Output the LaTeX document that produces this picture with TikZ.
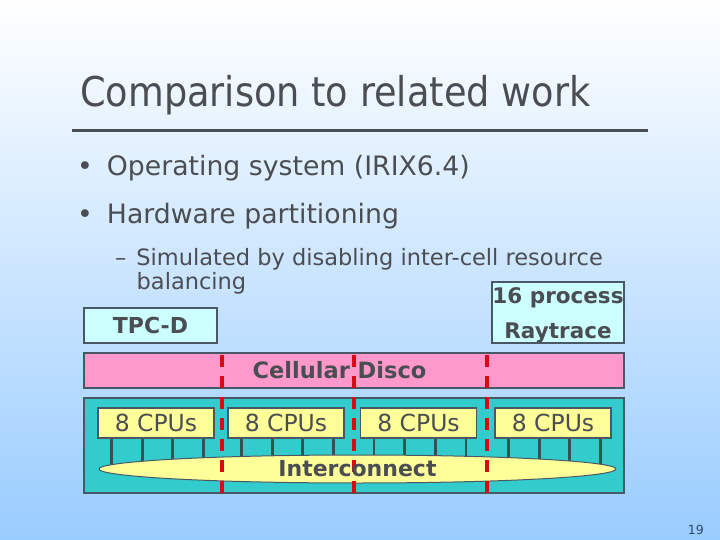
\documentclass[tikz,border=0pt]{standalone}
\usepackage{fontspec}
\setmainfont{DejaVu Sans}
\newfontfamily\titlefont{DejaVu Sans}[FakeStretch=0.895]

\definecolor{inkgray}{HTML}{4A4D52}
\definecolor{edgegray}{HTML}{4A5866}
\definecolor{skyblue}{HTML}{99CCFF}
\definecolor{cellcyan}{HTML}{CCFFFF}
\definecolor{discopink}{HTML}{FF99CC}
\definecolor{boardteal}{HTML}{33CCCC}
\definecolor{cpuyellow}{HTML}{FFFF99}
\definecolor{wiregray}{HTML}{35524F}
\definecolor{cutred}{HTML}{D80A14}
\definecolor{pagenum}{HTML}{33486A}

\tikzset{
  slidetext/.style={anchor=base west, inner sep=0pt, text=inkgray},
  cellbox/.style={draw=edgegray, line width=1.2pt, inner sep=0pt},
  tagbox/.style={cellbox, fill=cellcyan, text=inkgray, font=\bfseries\fontsize{22}{22}\selectfont},
  cpubox/.style={cellbox, fill=cpuyellow, minimum width=116pt, minimum height=30pt,
    text=inkgray, font=\fontsize{23.5}{24}\selectfont},
  boldlbl/.style={inner sep=0pt, text=inkgray, font=\bfseries\fontsize{22}{22}\selectfont},
  busline/.style={draw=wiregray, line width=2.8pt},
  cutline/.style={draw=cutred, line width=3.2pt, dash pattern=on 12pt off 9pt},
}

\begin{document}
\begin{tikzpicture}[x=1pt,y=-1pt]
  % slide background
  \shade[top color=white, bottom color=skyblue] (0,0) rectangle (720,540);

  \node[slidetext, font=\titlefont\fontsize{41}{41}\selectfont] (title) at (80,107) {Comparison to related work};
  \draw[draw=inkgray, line width=3pt] (72,131) -- (648,131);

  \node[slidetext, font=\fontsize{26.7}{32}\selectfont] (os) at (77,176) {•\hspace{14pt}Operating system (IRIX6.4)};
  \node[slidetext, font=\fontsize{26.7}{32}\selectfont] (hw) at (77,223) {•\hspace{14pt}Hardware partitioning};
  \node[slidetext, align=left, font=\fontsize{22.5}{23.5}\selectfont] (sim) at (115,289)
    {–\hspace{10pt}Simulated by disabling inter-cell resource\\\hspace*{21.5pt}balancing};

  % workloads
  \node[tagbox, minimum width=133pt, minimum height=35pt] (tpc) at (150.5,325.5) {TPC-D};
  \node[tagbox, minimum width=132pt, minimum height=61pt, align=center, text height=51pt, text depth=0pt,
    font=\bfseries\fontsize{21.5}{35}\selectfont] (ray) at (558,312.5) {16 process\\Raytrace};

  % cellular disco over the machine
  \node[cellbox, fill=discopink, minimum width=540pt, minimum height=35pt, text=inkgray,
    font=\bfseries\fontsize{22.5}{22.5}\selectfont] (disco) at (354,370.5) {Cellular Disco\hspace*{29pt}\null};
  \node[cellbox, fill=boardteal, minimum width=540pt, minimum height=95pt] (board) at (354,445.5) {};

  \foreach \n/\cx in {1/156,2/286,3/418.5,4/553}
    \node[cpubox] (cpu\n) at (\cx,423) {8 CPUs};

  \coordinate (icc) at (357.5,469);
  \foreach \n in {1,...,4}
    \foreach \k in {0,...,3}
      \draw[busline] ([xshift=14pt+30.7pt*\k]cpu\n.south west) -- ([xshift=14pt+30.7pt*\k]cpu\n.south west |- icc);

  \draw[draw=edgegray, line width=1pt, fill=cpuyellow] (icc) ellipse [x radius=258.5pt, y radius=14pt];

  % cell boundaries
  \foreach \cx in {222,354,487}
    \draw[cutline] (\cx,355) -- (\cx,493);

  \node[boldlbl] (ic) at (icc) {Interconnect};

  \node[anchor=base east, inner sep=0pt, text=pagenum, font=\fontsize{12.5}{13}\selectfont] (pg) at (704,534) {19};
\end{tikzpicture}
\end{document}
